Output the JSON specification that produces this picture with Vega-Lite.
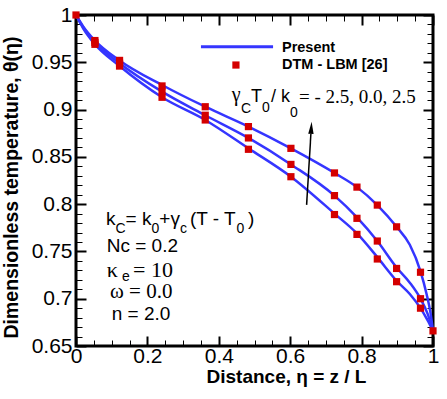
{
  "$schema": "https://vega.github.io/schema/vega-lite/v6.json",
  "autosize": "none",
  "width": 357,
  "height": 331,
  "padding": {"left": 76, "top": 15, "right": 14, "bottom": 53},
  "background": "white",
  "data": {"values": [{}]},
  "config": {
    "view": {"stroke": "black", "strokeWidth": 3},
    "axis": {"domain": false, "grid": false, "tickColor": "black", "labelColor": "black", "titleColor": "black", "labelFont": "Liberation Sans", "titleFont": "Liberation Sans"}
  },
  "datasets": {
    "present": [
      {"eta": 0, "theta": 1.0, "g": "2.5"}, {"eta": 0.02, "theta": 0.988, "g": "2.5"}, {"eta": 0.053, "theta": 0.973, "g": "2.5"}, {"eta": 0.122, "theta": 0.952, "g": "2.5"}, {"eta": 0.241, "theta": 0.926, "g": "2.5"}, {"eta": 0.362, "theta": 0.903, "g": "2.5"}, {"eta": 0.483, "theta": 0.882, "g": "2.5"}, {"eta": 0.602, "theta": 0.859, "g": "2.5"}, {"eta": 0.724, "theta": 0.833, "g": "2.5"}, {"eta": 0.787, "theta": 0.818, "g": "2.5"}, {"eta": 0.844, "theta": 0.799, "g": "2.5"}, {"eta": 0.898, "theta": 0.776, "g": "2.5"}, {"eta": 0.935, "theta": 0.757, "g": "2.5"}, {"eta": 0.965, "theta": 0.729, "g": "2.5"}, {"eta": 0.982, "theta": 0.705, "g": "2.5"}, {"eta": 0.993, "theta": 0.685, "g": "2.5"}, {"eta": 1.0, "theta": 0.666, "g": "2.5"},
      {"eta": 0, "theta": 1.0, "g": "0.0"}, {"eta": 0.02, "theta": 0.987, "g": "0.0"}, {"eta": 0.053, "theta": 0.971, "g": "0.0"}, {"eta": 0.122, "theta": 0.949, "g": "0.0"}, {"eta": 0.241, "theta": 0.919, "g": "0.0"}, {"eta": 0.362, "theta": 0.894, "g": "0.0"}, {"eta": 0.483, "theta": 0.870, "g": "0.0"}, {"eta": 0.602, "theta": 0.842, "g": "0.0"}, {"eta": 0.724, "theta": 0.809, "g": "0.0"}, {"eta": 0.787, "theta": 0.786, "g": "0.0"}, {"eta": 0.844, "theta": 0.761, "g": "0.0"}, {"eta": 0.898, "theta": 0.733, "g": "0.0"}, {"eta": 0.935, "theta": 0.717, "g": "0.0"}, {"eta": 0.965, "theta": 0.700, "g": "0.0"}, {"eta": 0.985, "theta": 0.684, "g": "0.0"}, {"eta": 1.0, "theta": 0.666, "g": "0.0"},
      {"eta": 0, "theta": 1.0, "g": "-2.5"}, {"eta": 0.02, "theta": 0.986, "g": "-2.5"}, {"eta": 0.053, "theta": 0.969, "g": "-2.5"}, {"eta": 0.122, "theta": 0.946, "g": "-2.5"}, {"eta": 0.241, "theta": 0.913, "g": "-2.5"}, {"eta": 0.362, "theta": 0.889, "g": "-2.5"}, {"eta": 0.483, "theta": 0.859, "g": "-2.5"}, {"eta": 0.602, "theta": 0.829, "g": "-2.5"}, {"eta": 0.724, "theta": 0.790, "g": "-2.5"}, {"eta": 0.787, "theta": 0.769, "g": "-2.5"}, {"eta": 0.844, "theta": 0.744, "g": "-2.5"}, {"eta": 0.898, "theta": 0.719, "g": "-2.5"}, {"eta": 0.935, "theta": 0.705, "g": "-2.5"}, {"eta": 0.965, "theta": 0.690, "g": "-2.5"}, {"eta": 0.985, "theta": 0.677, "g": "-2.5"}, {"eta": 1.0, "theta": 0.666, "g": "-2.5"}
    ],
    "dtm": [
      {"eta": 0, "theta": 1.0, "g": "2.5"}, {"eta": 0.053, "theta": 0.973, "g": "2.5"}, {"eta": 0.122, "theta": 0.952, "g": "2.5"}, {"eta": 0.241, "theta": 0.925, "g": "2.5"}, {"eta": 0.362, "theta": 0.903, "g": "2.5"}, {"eta": 0.483, "theta": 0.882, "g": "2.5"}, {"eta": 0.602, "theta": 0.859, "g": "2.5"}, {"eta": 0.724, "theta": 0.833, "g": "2.5"}, {"eta": 0.787, "theta": 0.818, "g": "2.5"}, {"eta": 0.844, "theta": 0.799, "g": "2.5"}, {"eta": 0.898, "theta": 0.776, "g": "2.5"}, {"eta": 0.965, "theta": 0.728, "g": "2.5"}, {"eta": 1.0, "theta": 0.666, "g": "2.5"},
      {"eta": 0.053, "theta": 0.971, "g": "0.0"}, {"eta": 0.122, "theta": 0.949, "g": "0.0"}, {"eta": 0.241, "theta": 0.919, "g": "0.0"}, {"eta": 0.362, "theta": 0.894, "g": "0.0"}, {"eta": 0.483, "theta": 0.870, "g": "0.0"}, {"eta": 0.602, "theta": 0.842, "g": "0.0"}, {"eta": 0.724, "theta": 0.809, "g": "0.0"}, {"eta": 0.787, "theta": 0.785, "g": "0.0"}, {"eta": 0.844, "theta": 0.761, "g": "0.0"}, {"eta": 0.898, "theta": 0.732, "g": "0.0"}, {"eta": 0.965, "theta": 0.700, "g": "0.0"},
      {"eta": 0.053, "theta": 0.969, "g": "-2.5"}, {"eta": 0.122, "theta": 0.946, "g": "-2.5"}, {"eta": 0.241, "theta": 0.913, "g": "-2.5"}, {"eta": 0.362, "theta": 0.889, "g": "-2.5"}, {"eta": 0.483, "theta": 0.858, "g": "-2.5"}, {"eta": 0.602, "theta": 0.829, "g": "-2.5"}, {"eta": 0.724, "theta": 0.789, "g": "-2.5"}, {"eta": 0.787, "theta": 0.768, "g": "-2.5"}, {"eta": 0.844, "theta": 0.742, "g": "-2.5"}, {"eta": 0.898, "theta": 0.718, "g": "-2.5"}, {"eta": 0.965, "theta": 0.690, "g": "-2.5"}
    ]
  },
  "resolve": {"axis": {"x": "independent", "y": "independent"}},
  "layer": [
    {
      "data": {"name": "present"},
      "mark": {"type": "line", "color": "#3535ff", "strokeWidth": 2.5, "interpolate": "monotone"},
      "encoding": {
        "x": {"field": "eta", "type": "quantitative", "scale": {"domain": [0, 1], "nice": false},
          "axis": {"orient": "bottom", "values": [0, 0.2, 0.4, 0.6, 0.8, 1], "format": "~g", "tickSize": -10, "tickWidth": 2, "labelPadding": 9, "labelFontSize": 21, "labelFlush": false,
            "title": "Distance, η =  z / L", "titleFontSize": 19, "titleFontWeight": "bold", "titleX": 210, "titleY": 36, "titleAnchor": null, "titleAlign": "center", "titleBaseline": "alphabetic"}},
        "y": {"field": "theta", "type": "quantitative", "scale": {"domain": [0.65, 1], "nice": false, "zero": false},
          "axis": {"orient": "left", "values": [0.65, 0.7, 0.75, 0.8, 0.85, 0.9, 0.95, 1], "format": "~g", "tickSize": -10, "tickWidth": 2, "labelPadding": 14, "labelFontSize": 21, "labelFlush": false,
            "title": "Dimensionless temperature, θ(η)", "titleFontSize": 19.5, "titleFontWeight": "bold", "titleX": -59, "titleY": 172, "titleAnchor": null, "titleAlign": "center", "titleAngle": -90, "titleBaseline": "alphabetic"}},
        "detail": {"field": "g"}
      }
    },
    {
      "data": {"name": "dtm"},
      "mark": {"type": "point", "shape": "square", "filled": true, "color": "#d40000", "size": 52, "opacity": 1, "clip": false},
      "encoding": {
        "x": {"field": "eta", "type": "quantitative", "scale": {"domain": [0, 1], "nice": false},
          "axis": {"orient": "bottom", "values": [0.05, 0.1, 0.15, 0.25, 0.3, 0.35, 0.45, 0.5, 0.55, 0.65, 0.7, 0.75, 0.85, 0.9, 0.95], "labels": false, "title": null, "tickSize": -6, "tickWidth": 1}},
        "y": {"field": "theta", "type": "quantitative", "scale": {"domain": [0.65, 1], "nice": false, "zero": false},
          "axis": {"orient": "left", "values": [0.66, 0.67, 0.68, 0.69, 0.71, 0.72, 0.73, 0.74, 0.76, 0.77, 0.78, 0.79, 0.81, 0.82, 0.83, 0.84, 0.86, 0.87, 0.88, 0.89, 0.91, 0.92, 0.93, 0.94, 0.96, 0.97, 0.98, 0.99], "labels": false, "title": null, "tickSize": -6, "tickWidth": 1}}
      }
    },
    {
      "mark": {"type": "rule", "color": "black", "strokeWidth": 1.5},
      "encoding": {
        "x": {"datum": 0.646, "scale": {"domain": [0, 1], "nice": false},
          "axis": {"orient": "top", "values": [0, 0.2, 0.4, 0.6, 0.8, 1], "labels": false, "title": null, "tickSize": -10, "tickWidth": 2}},
        "x2": {"datum": 0.658},
        "y": {"datum": 0.7992, "scale": {"domain": [0.65, 1], "nice": false, "zero": false},
          "axis": {"orient": "right", "values": [0.65, 0.7, 0.75, 0.8, 0.85, 0.9, 0.95, 1], "labels": false, "title": null, "tickSize": -10, "tickWidth": 2}},
        "y2": {"datum": 0.8745}
      }
    },
    {
      "mark": {"type": "point", "shape": "M0,-1L-0.45,1L0.45,1Z", "filled": true, "color": "black", "size": 144, "angle": 3.4, "opacity": 1},
      "encoding": {
        "x": {"datum": 0.659, "scale": {"domain": [0, 1], "nice": false},
          "axis": {"orient": "top", "values": [0.05, 0.1, 0.15, 0.25, 0.3, 0.35, 0.45, 0.5, 0.55, 0.65, 0.7, 0.75, 0.85, 0.9, 0.95], "labels": false, "title": null, "tickSize": -6, "tickWidth": 1}},
        "y": {"datum": 0.8807, "scale": {"domain": [0.65, 1], "nice": false, "zero": false},
          "axis": {"orient": "right", "values": [0.66, 0.67, 0.68, 0.69, 0.71, 0.72, 0.73, 0.74, 0.76, 0.77, 0.78, 0.79, 0.81, 0.82, 0.83, 0.84, 0.86, 0.87, 0.88, 0.89, 0.91, 0.92, 0.93, 0.94, 0.96, 0.97, 0.98, 0.99], "labels": false, "title": null, "tickSize": -6, "tickWidth": 1}}
      }
    },
    {
      "mark": {"type": "rule", "color": "#3535ff", "strokeWidth": 3},
      "encoding": {"x": {"datum": 0.35, "axis": null}, "x2": {"datum": 0.552}, "y": {"datum": 0.9665, "axis": null}}
    },
    {
      "mark": {"type": "point", "shape": "square", "filled": true, "color": "#d40000", "size": 52, "opacity": 1},
      "encoding": {"x": {"datum": 0.448, "axis": null}, "y": {"datum": 0.9471, "axis": null}}
    },
    {
      "mark": {"type": "text", "font": "Liberation Sans", "fontWeight": "bold", "fontSize": 14.5, "align": "left", "baseline": "alphabetic", "color": "black"},
      "encoding": {"x": {"datum": 0.577, "axis": null}, "y": {"datum": 0.9609, "axis": null}, "text": {"value": "Present"}}
    },
    {
      "mark": {"type": "text", "font": "Liberation Sans", "fontWeight": "bold", "fontSize": 14.5, "align": "left", "baseline": "alphabetic", "color": "black"},
      "encoding": {"x": {"datum": 0.577, "axis": null}, "y": {"datum": 0.9434, "axis": null}, "text": {"value": "DTM - LBM [26]"}}
    },
    {
      "mark": {"type": "text", "font": "Liberation Serif", "fontSize": 20, "align": "left", "baseline": "alphabetic", "color": "black"},
      "encoding": {"x": {"datum": 0.4361, "axis": null}, "y": {"datum": 0.9091, "axis": null}, "text": {"value": "γ"}}
    },
    {
      "mark": {"type": "text", "font": "Liberation Sans", "fontSize": 14, "align": "left", "baseline": "alphabetic", "color": "black"},
      "encoding": {"x": {"datum": 0.4622, "axis": null}, "y": {"datum": 0.8964, "axis": null}, "text": {"value": "C"}}
    },
    {
      "mark": {"type": "text", "font": "Liberation Sans", "fontSize": 18, "align": "left", "baseline": "alphabetic", "color": "black"},
      "encoding": {"x": {"datum": 0.4902, "axis": null}, "y": {"datum": 0.908, "axis": null}, "text": {"value": "T"}}
    },
    {
      "mark": {"type": "text", "font": "Liberation Sans", "fontSize": 14, "align": "left", "baseline": "alphabetic", "color": "black"},
      "encoding": {"x": {"datum": 0.521, "axis": null}, "y": {"datum": 0.8978, "axis": null}, "text": {"value": "0"}}
    },
    {
      "mark": {"type": "text", "font": "Liberation Sans", "fontSize": 18, "align": "left", "baseline": "alphabetic", "color": "black"},
      "encoding": {"x": {"datum": 0.5462, "axis": null}, "y": {"datum": 0.908, "axis": null}, "text": {"value": "/ k"}}
    },
    {
      "mark": {"type": "text", "font": "Liberation Sans", "fontSize": 14, "align": "left", "baseline": "alphabetic", "color": "black"},
      "encoding": {"x": {"datum": 0.5994, "axis": null}, "y": {"datum": 0.8925, "axis": null}, "text": {"value": "0"}}
    },
    {
      "mark": {"type": "text", "font": "Liberation Serif", "fontSize": 19, "align": "left", "baseline": "alphabetic", "color": "black"},
      "encoding": {"x": {"datum": 0.6246, "axis": null}, "y": {"datum": 0.907, "axis": null}, "text": {"value": "= - 2.5, 0.0, 2.5"}}
    },
    {
      "mark": {"type": "text", "font": "Liberation Sans", "fontSize": 19, "align": "left", "baseline": "alphabetic", "color": "black"},
      "encoding": {"x": {"datum": 0.084, "axis": null}, "y": {"datum": 0.778, "axis": null}, "text": {"value": "k"}}
    },
    {
      "mark": {"type": "text", "font": "Liberation Sans", "fontSize": 14, "align": "left", "baseline": "alphabetic", "color": "black"},
      "encoding": {"x": {"datum": 0.1106, "axis": null}, "y": {"datum": 0.7696, "axis": null}, "text": {"value": "C"}}
    },
    {
      "mark": {"type": "text", "font": "Liberation Sans", "fontSize": 19, "align": "left", "baseline": "alphabetic", "color": "black"},
      "encoding": {"x": {"datum": 0.1389, "axis": null}, "y": {"datum": 0.778, "axis": null}, "text": {"value": "= k"}}
    },
    {
      "mark": {"type": "text", "font": "Liberation Sans", "fontSize": 14, "align": "left", "baseline": "alphabetic", "color": "black"},
      "encoding": {"x": {"datum": 0.2115, "axis": null}, "y": {"datum": 0.7696, "axis": null}, "text": {"value": "0"}}
    },
    {
      "mark": {"type": "text", "font": "Liberation Sans", "fontSize": 19, "align": "left", "baseline": "alphabetic", "color": "black"},
      "encoding": {"x": {"datum": 0.2333, "axis": null}, "y": {"datum": 0.778, "axis": null}, "text": {"value": "+γ"}}
    },
    {
      "mark": {"type": "text", "font": "Liberation Sans", "fontSize": 14, "align": "left", "baseline": "alphabetic", "color": "black"},
      "encoding": {"x": {"datum": 0.291, "axis": null}, "y": {"datum": 0.7696, "axis": null}, "text": {"value": "c"}}
    },
    {
      "mark": {"type": "text", "font": "Liberation Sans", "fontSize": 19, "align": "left", "baseline": "alphabetic", "color": "black"},
      "encoding": {"x": {"datum": 0.3193, "axis": null}, "y": {"datum": 0.778, "axis": null}, "text": {"value": "(T - T"}}
    },
    {
      "mark": {"type": "text", "font": "Liberation Sans", "fontSize": 14, "align": "left", "baseline": "alphabetic", "color": "black"},
      "encoding": {"x": {"datum": 0.4493, "axis": null}, "y": {"datum": 0.7696, "axis": null}, "text": {"value": "0"}}
    },
    {
      "mark": {"type": "text", "font": "Liberation Sans", "fontSize": 19, "align": "left", "baseline": "alphabetic", "color": "black"},
      "encoding": {"x": {"datum": 0.4818, "axis": null}, "y": {"datum": 0.778, "axis": null}, "text": {"value": ")"}}
    },
    {
      "mark": {"type": "text", "font": "Liberation Sans", "fontSize": 19, "align": "left", "baseline": "alphabetic", "color": "black"},
      "encoding": {"x": {"datum": 0.086, "axis": null}, "y": {"datum": 0.7498, "axis": null}, "text": {"value": "Nc = 0.2"}}
    },
    {
      "mark": {"type": "text", "font": "Liberation Serif", "fontSize": 22, "align": "left", "baseline": "alphabetic", "color": "black"},
      "encoding": {"x": {"datum": 0.086, "axis": null}, "y": {"datum": 0.7234, "axis": null}, "text": {"value": "κ"}}
    },
    {
      "mark": {"type": "text", "font": "Liberation Sans", "fontSize": 14, "align": "left", "baseline": "alphabetic", "color": "black"},
      "encoding": {"x": {"datum": 0.1289, "axis": null}, "y": {"datum": 0.7188, "axis": null}, "text": {"value": "e"}}
    },
    {
      "mark": {"type": "text", "font": "Liberation Serif", "fontSize": 22, "align": "left", "baseline": "alphabetic", "color": "black"},
      "encoding": {"x": {"datum": 0.1597, "axis": null}, "y": {"datum": 0.7234, "axis": null}, "text": {"value": "= 10"}}
    },
    {
      "mark": {"type": "text", "font": "Liberation Serif", "fontSize": 21, "align": "left", "baseline": "alphabetic", "color": "black"},
      "encoding": {"x": {"datum": 0.0952, "axis": null}, "y": {"datum": 0.7005, "axis": null}, "text": {"value": "ω = 0.0"}}
    },
    {
      "mark": {"type": "text", "font": "Liberation Sans", "fontSize": 19, "align": "left", "baseline": "alphabetic", "color": "black"},
      "encoding": {"x": {"datum": 0.1, "axis": null}, "y": {"datum": 0.6776, "axis": null}, "text": {"value": "n = 2.0"}}
    }
  ]
}
